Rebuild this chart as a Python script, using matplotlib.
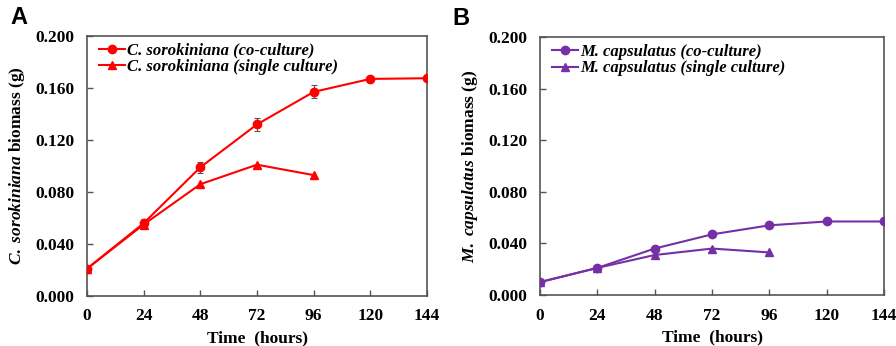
import numpy as np
import matplotlib
matplotlib.use('Agg')
import matplotlib.pyplot as plt

plt.rcParams['font.family'] = 'Liberation Serif'
plt.rcParams['font.weight'] = 'bold'
plt.rcParams['axes.labelweight'] = 'bold'
plt.rcParams['mathtext.fontset'] = 'custom'
plt.rcParams['mathtext.it'] = 'Liberation Serif:italic:bold'
plt.rcParams['mathtext.rm'] = 'Liberation Serif:bold'

# data
hours = [0, 24, 48, 72, 96, 120, 144]
hours_single = [0, 24, 48, 72, 96]

cs_co = [0.021, 0.056, 0.099, 0.132, 0.157, 0.167, 0.1675]
cs_co_err = [0.001, 0.003, 0.004, 0.005, 0.005, 0.001, 0.001]
cs_single = [0.021, 0.055, 0.086, 0.101, 0.093]

mc_co = [0.010, 0.021, 0.036, 0.047, 0.054, 0.057, 0.057]
mc_co_err = [0.0005, 0.001, 0.001, 0.001, 0.001, 0.001, 0.001]
mc_single = [0.010, 0.021, 0.031, 0.036, 0.033]

yticks = [0.0, 0.04, 0.08, 0.12, 0.16, 0.2]

fig = plt.figure(figsize=(8.96, 3.46), dpi=100)
axA = fig.add_axes([87 / 896, 1 - 296 / 346, 340 / 896, 260 / 346])
axB = fig.add_axes([540 / 896, 1 - 295 / 346, 344 / 896, 258 / 346])

panels = [
    (axA, 'A', '#FF0000', cs_co, cs_co_err, cs_single, 'C.', 'sorokiniana'),
    (axB, 'B', '#7530A5', mc_co, mc_co_err, mc_single, 'M.', 'capsulatus'),
]

for ax, letter, col, co, err, single, genus, species in panels:
    name = genus + ' ' + species
    ax.errorbar(hours, co, yerr=err, fmt='none', ecolor='#555555',
                elinewidth=0.8, capsize=2, capthick=0.8, zorder=2)
    l1, = ax.plot(hours, co, color=col, lw=1.5, marker='o', ms=6, zorder=3)
    l2, = ax.plot(hours_single, single, color=col, lw=1.5, marker='^', ms=6, zorder=3)
    ax.set_xlim(0, 144)
    ax.set_ylim(0, 0.2)
    ax.set_xticks(hours)
    ax.set_yticks(yticks)
    ax.set_yticklabels(['%.3f' % v for v in yticks])
    ax.tick_params(axis='both', direction='in', labelsize=12.5, length=4, width=1, color='#555555')
    ax.tick_params(axis='x', pad=9)
    ax.tick_params(axis='y', pad=9)
    for s in ax.spines.values():
        s.set_color('#555555')
        s.set_linewidth(1.2)
    ax.set_xlabel('Time  (hours)', fontsize=12.5, labelpad=4)
    ax.set_ylabel(r'$\it{' + genus + r'}$ $\it{' + species + r'}$ biomass (g)',
                  fontsize=12.5, labelpad=6)
    ax.legend([l1, l2], [name + ' (co-culture)', name + ' (single culture)'],
              loc='upper left', bbox_to_anchor=(0.0, 1.02), frameon=False,
              prop={'family': 'Liberation Serif', 'style': 'italic', 'weight': 'bold', 'size': 12},
              handlelength=1.6, handletextpad=0.1, borderaxespad=0.3, labelspacing=0.05)
    ax.text(-0.225 if letter == 'A' else -0.255, 1.07, letter, transform=ax.transAxes,
            fontsize=17, fontweight='bold', family='Liberation Sans', va='center')

fig.savefig('out.png', dpi=100)
